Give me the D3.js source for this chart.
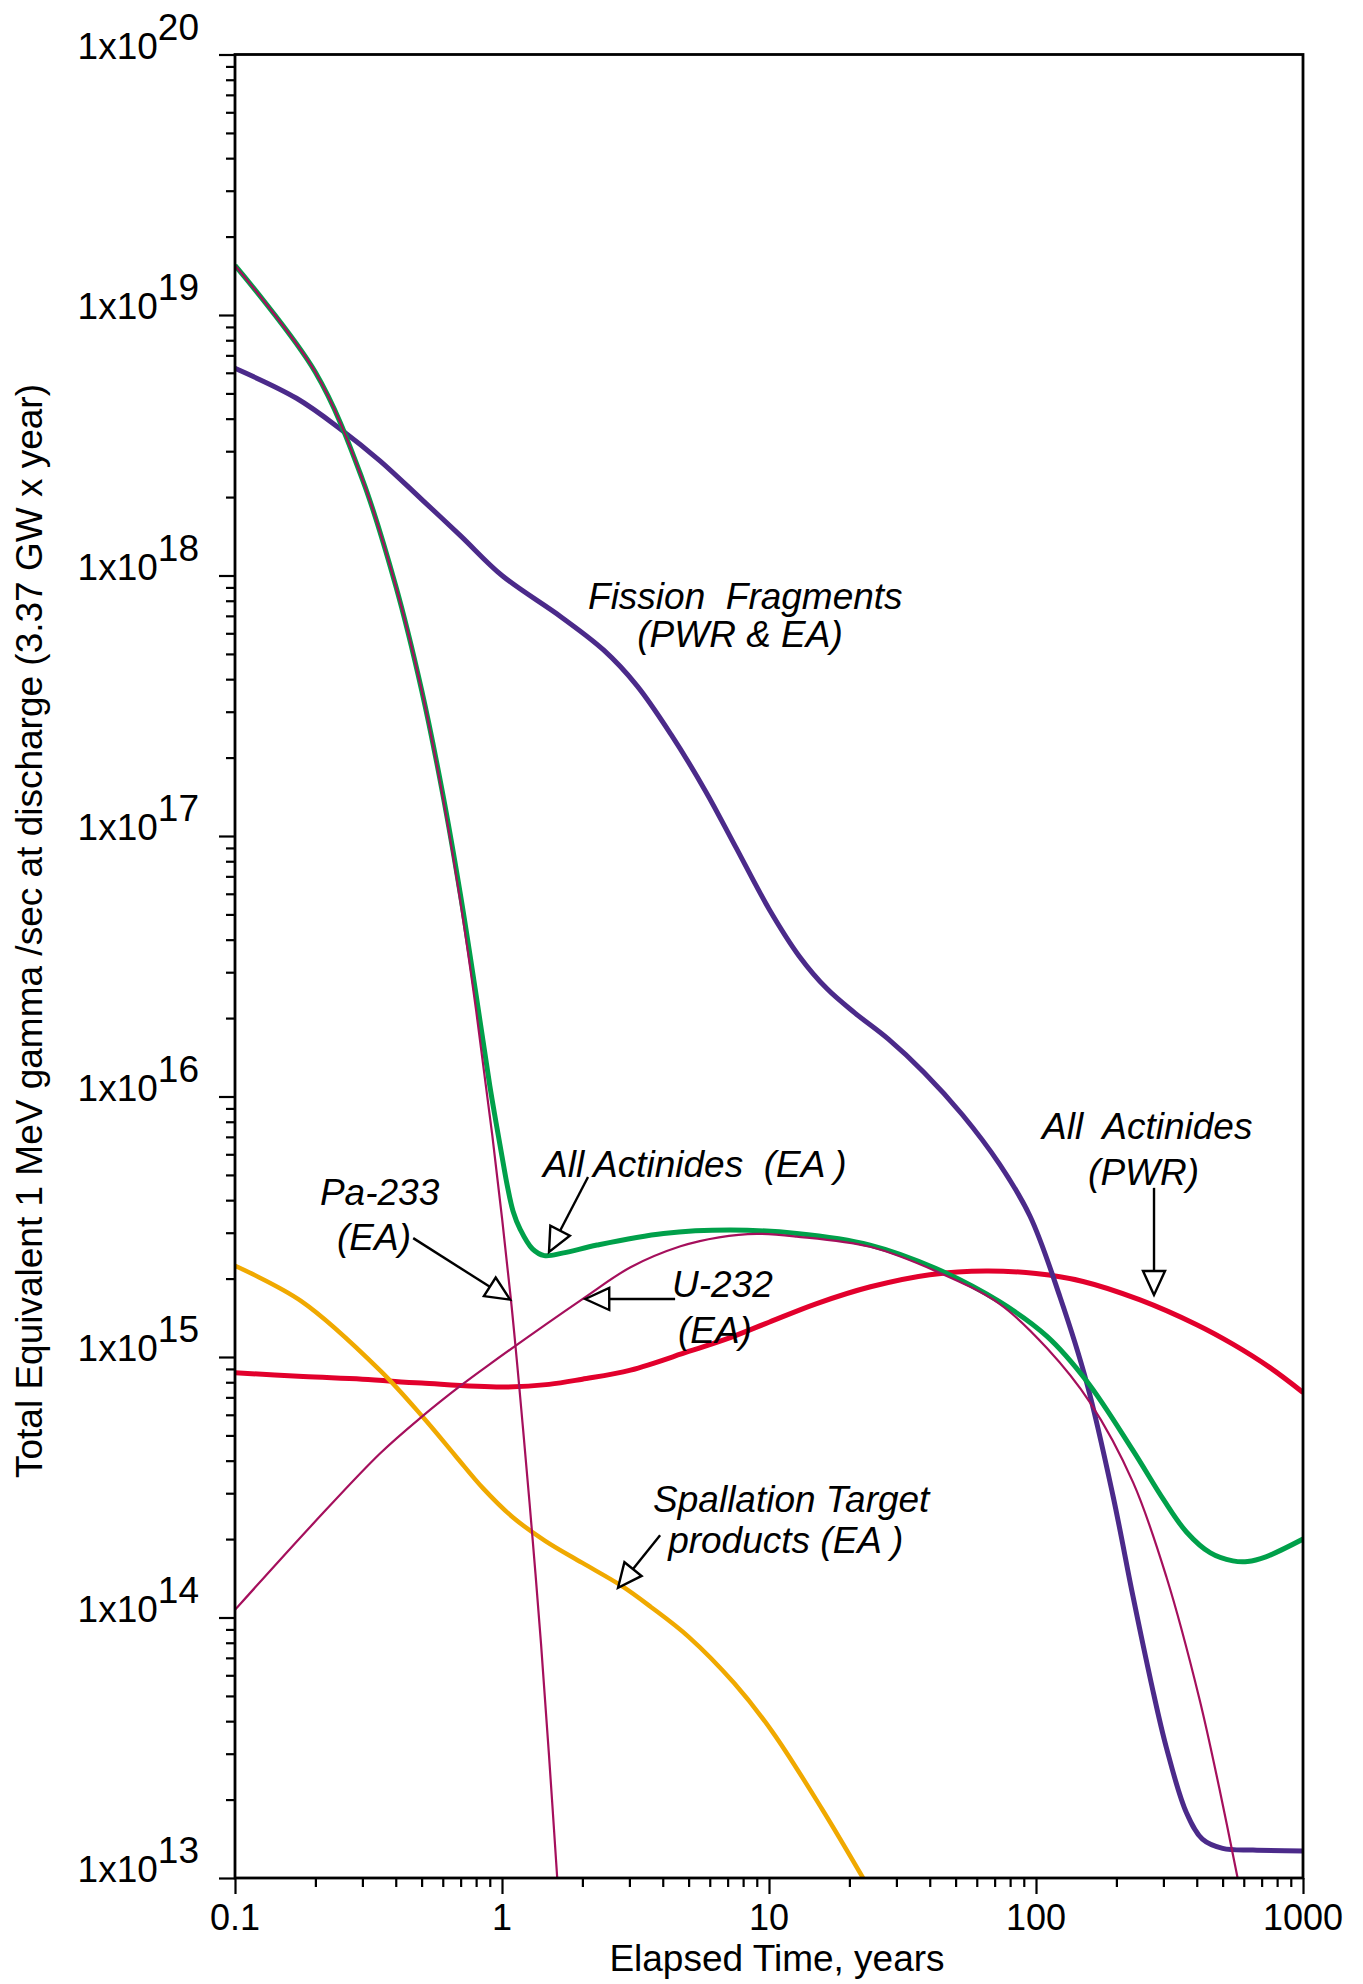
<!DOCTYPE html>
<html>
<head>
<meta charset="utf-8">
<script src="https://cdn.jsdelivr.net/npm/d3@7"></script>
<style>
  body { margin: 0; background: #fff; }
  svg { display: block; font-family: "Liberation Sans", Arial, Helvetica, sans-serif; }
  .note { font-style: italic; font-size: 37px; white-space: pre; fill: #000; }
</style>
</head>
<body>
<svg id="chart"></svg>
<script>
// elapsed time (years) and total equivalent 1 MeV gamma/sec for each curve
const fissionT = [0.1, 0.17, 0.25, 0.35, 0.5, 0.7, 1, 1.66, 2.4, 3.2, 4.3, 5.8, 7.5, 10, 13, 16.5, 21, 28, 38, 53, 73, 95, 123, 155, 194, 231, 270, 308, 366, 420, 500, 650, 1000]
const fissionV = [6.24e18, 4.79e18, 3.63e18, 2.75e18, 1.96e18, 1.42e18, 1.0e18, 6.95e17, 5.18e17, 3.78e17, 2.45e17, 1.48e17, 9.08e16, 5.25e16, 3.45e16, 2.59e16, 2.09e16, 1.66e16, 1.24e16, 8.51e15, 5.5e15, 3.47e15, 1.7e15, 7.94e14, 2.95e14, 1.2e14, 5.62e13, 3.16e13, 1.78e13, 1.41e13, 1.3e13, 1.28e13, 1.27e13]

const actEAT = [0.1, 0.2, 0.3, 0.4, 0.5, 0.6, 0.7, 0.8, 0.9, 0.95, 1, 1.05, 1.1, 1.17, 1.3, 1.44, 1.7, 2.27, 4.03, 7.16, 12.7, 23.9, 42, 73, 110, 155, 231, 300, 366, 450, 546, 620, 726, 1000]
const actEAV = [1.55e19, 6.03e18, 2.34e18, 9.12e17, 3.63e17, 1.45e17, 5.89e16, 2.45e16, 1.1e16, 7.94e15, 5.89e15, 4.47e15, 3.63e15, 3.09e15, 2.6e15, 2.45e15, 2.51e15, 2.69e15, 2.98e15, 3.07e15, 2.98e15, 2.69e15, 2.19e15, 1.63e15, 1.2e15, 8.07e14, 4.37e14, 2.84e14, 2.13e14, 1.77e14, 1.65e14, 1.64e14, 1.71e14, 2.0e14]

const pa233T = [0.1, 0.2, 0.3, 0.4, 0.5, 0.6, 0.7, 0.8, 0.92, 1.08, 1.2, 1.3, 1.4, 1.5, 1.61]
const pa233V = [1.55e19, 6.03e18, 2.34e18, 9.12e17, 3.63e17, 1.41e17, 5.5e16, 2.14e16, 7.08e15, 1.66e15, 5.25e14, 2.04e14, 7.94e13, 2.95e13, 1.0e13]

const u232T = [0.1, 0.2, 0.35, 0.5, 0.7, 0.88, 2.02, 3.03, 4.66, 6.5, 9, 12.7, 23.9, 42, 73, 110, 159, 231, 308, 409, 486, 569]
const u232V = [1.07e14, 2.34e14, 4.27e14, 5.89e14, 7.76e14, 9.23e14, 1.68e15, 2.21e15, 2.66e15, 2.88e15, 2.97e15, 2.9e15, 2.65e15, 2.14e15, 1.6e15, 1.08e15, 6.71e14, 3.3e14, 1.43e14, 4.89e13, 2.21e13, 1.0e13]

const spallT = [0.1, 0.177, 0.35, 0.51, 0.67, 0.85, 1.1, 1.45, 2, 2.78, 3.6, 5, 7.4, 10.3, 15.9, 22.5]
const spallV = [2.24e15, 1.64e15, 8.87e14, 5.82e14, 4.17e14, 3.13e14, 2.42e14, 1.97e14, 1.62e14, 1.33e14, 1.1e14, 8.43e13, 5.6e13, 3.64e13, 1.82e13, 1.0e13]

const actPWRT = [0.1, 0.18, 0.3, 0.5, 1, 1.5, 2, 3.03, 5, 7.2, 10, 15, 24, 40, 65, 100, 150, 244, 400, 546, 750, 1000]
const actPWRV = [8.71e14, 8.41e14, 8.22e14, 7.94e14, 7.67e14, 7.85e14, 8.22e14, 8.91e14, 1.05e15, 1.19e15, 1.36e15, 1.6e15, 1.86e15, 2.07e15, 2.14e15, 2.09e15, 1.95e15, 1.66e15, 1.33e15, 1.12e15, 9.12e14, 7.31e14]

// tick values
const xMajor = [0.1, 1, 10, 100, 1000]
const xTickLabels = ["0.1", "1", "10", "100", "1000"]
const yExponents = [13, 14, 15, 16, 17, 18, 19, 20]

// annotation texts, anchored in data space [t, value]
const noteLines = [
    {text: "Fission  Fragments", at: [2.10, 7.44e17]},
    {text: "(PWR & EA)", at: [3.21, 5.32e17]},
    {text: "All Actinides  (EA )", at: [1.424, 4.91e15]},
    {text: "Pa-233", at: [0.208, 3.83e15]},
    {text: "(EA)", at: [0.241, 2.58e15]},
    {text: "U-232", at: [4.33, 1.70e15]},
    {text: "(EA)", at: [4.56, 1.13e15]},
    {text: "All  Actinides", at: [105.3, 6.87e15]},
    {text: "(PWR)", at: [156.7, 4.57e15]},
    {text: "Spallation Target", at: [3.68, 2.54e14]},
    {text: "products (EA )", at: [4.19, 1.77e14]}
]
// arrows: tail -> tip, in data space
const noteArrows = [
    {from: [2.10, 4.91e15], to: [1.50, 2.53e15]},
    {from: [0.465, 2.86e15], to: [1.072, 1.66e15]},
    {from: [4.45, 1.67e15], to: [2.05, 1.67e15]},
    {from: [276.7, 4.46e15], to: [276.7, 1.73e15]},
    {from: [3.91, 2.07e14], to: [2.72, 1.30e14]}
]

// constants
const width = 1363
const height = 1984
const plot = {left: 235, right: 1303, top: 54.5, bottom: 1878}

const svg = d3.select('svg#chart').attr('width', width).attr('height', height)

const x = d3.scaleLog().domain([0.1, 1000]).range([plot.left, plot.right])
const y = d3.scaleLog().domain([1e13, 1e20]).range([plot.bottom, plot.top])

const zip = (ts, vs) => ts.map((t, i) => [t, vs[i]])

const series = [
    {data: zip(actPWRT, actPWRV), color: '#E2002C', w: 5},
    {data: zip(spallT, spallV), color: '#F0A900', w: 4.5},
    {data: zip(fissionT, fissionV), color: '#4B2A8A', w: 5},
    {data: zip(actEAT, actEAV), color: '#00A04A', w: 5},
    {data: zip(u232T, u232V), color: '#A50F5C', w: 2.2},
    {data: zip(pa233T, pa233V), color: '#A50F5C', w: 2.2}
]

svg.append('clipPath').attr('id', 'plot-clip')
    .append('rect')
    .attr('x', plot.left).attr('y', plot.top)
    .attr('width', plot.right - plot.left).attr('height', plot.bottom - plot.top)

const line = d3.line()
    .x(d => x(d[0]))
    .y(d => y(d[1]))
    .curve(d3.curveCatmullRom.alpha(0.5))

svg.append('g').attr('clip-path', 'url(#plot-clip)')
    .selectAll('path').data(series)
    .enter().append('path')
    .attr('d', d => line(d.data))
    .attr('fill', 'none')
    .attr('stroke', d => d.color)
    .attr('stroke-width', d => d.w)
    .attr('stroke-linejoin', 'round')

// minor tick values: 2..9 in every decade
const yMinor = []
yExponents.slice(0, -1).forEach(e => {
    for (let k = 2; k <= 9; k++) yMinor.push(k * Math.pow(10, e))
})
const xMinor = []
xMajor.slice(0, -1).forEach(v => {
    for (let k = 2; k <= 9; k++) xMinor.push(k * v)
})
const yMajor = yExponents.map(e => Math.pow(10, e))

function styleAxis(g) {
    g.select('.domain').remove()
    g.selectAll('.tick line').attr('stroke', '#000').attr('stroke-width', 2.2)
    g.selectAll('.tick text').remove()
}

svg.append('g').attr('transform', 'translate(' + plot.left + ',0)')
    .call(d3.axisLeft(y).tickValues(yMajor).tickSize(16)).call(styleAxis)
svg.append('g').attr('transform', 'translate(' + plot.left + ',0)')
    .call(d3.axisLeft(y).tickValues(yMinor).tickSize(9)).call(styleAxis)
svg.append('g').attr('transform', 'translate(0,' + plot.bottom + ')')
    .call(d3.axisBottom(x).tickValues(xMajor).tickSize(16)).call(styleAxis)
svg.append('g').attr('transform', 'translate(0,' + plot.bottom + ')')
    .call(d3.axisBottom(x).tickValues(xMinor).tickSize(9)).call(styleAxis)

// frame
svg.append('rect')
    .attr('x', plot.left).attr('y', plot.top)
    .attr('width', plot.right - plot.left).attr('height', plot.bottom - plot.top)
    .attr('fill', 'none').attr('stroke', '#000').attr('stroke-width', 2.8)

// y tick labels 1x10^n
const yLab = svg.append('g').selectAll('text').data(yExponents)
    .enter().append('text')
    .attr('x', 199)
    .attr('y', d => y(Math.pow(10, d)) + 4)
    .attr('text-anchor', 'end')
    .attr('font-size', 37)
yLab.append('tspan').text('1x10')
yLab.append('tspan').attr('dy', -19).text(d => d)

// x tick labels
svg.append('g').selectAll('text').data(xMajor)
    .enter().append('text')
    .attr('x', d => x(d))
    .attr('y', 1930)
    .attr('text-anchor', 'middle')
    .attr('font-size', 36)
    .text((d, i) => xTickLabels[i])

// axis titles
svg.append('text')
    .attr('x', (plot.left + plot.right) / 2 + 8)
    .attr('y', 1971)
    .attr('text-anchor', 'middle')
    .attr('font-size', 37)
    .text('Elapsed Time, years')

svg.append('text')
    .attr('transform', 'translate(42,931) rotate(-90)')
    .attr('text-anchor', 'middle')
    .attr('font-size', 37)
    .text('Total Equivalent 1 MeV gamma /sec at discharge (3.37 GW x year)')

// annotations
svg.append('g').selectAll('text').data(noteLines)
    .enter().append('text')
    .attr('class', 'note')
    .attr('x', d => x(d.at[0]))
    .attr('y', d => y(d.at[1]))
    .text(d => d.text)

const headLen = 24
const headHalf = 11
noteArrows.forEach(a => {
    const x1 = x(a.from[0]), y1 = y(a.from[1])
    const x2 = x(a.to[0]), y2 = y(a.to[1])
    const len = Math.hypot(x2 - x1, y2 - y1)
    const ux = (x2 - x1) / len, uy = (y2 - y1) / len
    const bx = x2 - ux * headLen, by = y2 - uy * headLen
    svg.append('line')
        .attr('x1', x1).attr('y1', y1).attr('x2', bx).attr('y2', by)
        .attr('stroke', '#000').attr('stroke-width', 2.4)
    const pts = [[x2, y2], [bx - uy * headHalf, by + ux * headHalf], [bx + uy * headHalf, by - ux * headHalf]]
    svg.append('polygon')
        .attr('points', pts.map(p => p.join(',')).join(' '))
        .attr('fill', '#fff').attr('stroke', '#000').attr('stroke-width', 2.4)
        .attr('stroke-linejoin', 'miter')
})
</script>
</body>
</html>
